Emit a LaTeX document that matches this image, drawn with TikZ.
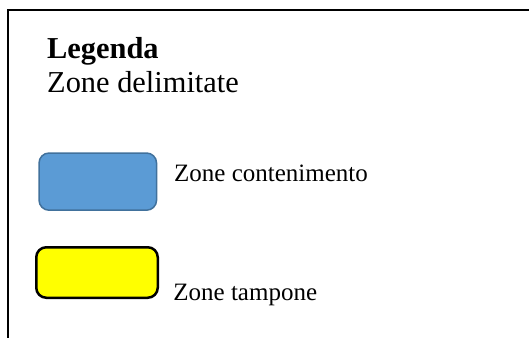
\documentclass[tikz,border=0pt]{standalone}
\usepackage{fontspec}
\setmainfont{Liberation Serif}
\usetikzlibrary{positioning}

\definecolor{boxblue}{HTML}{5B9BD5}
\definecolor{edgeblue}{HTML}{41719C}
\definecolor{boxyellow}{HTML}{FFFF00}

\begin{document}
\begin{tikzpicture}[x=1pt, y=-1pt]
\tikzstyle{zonebox} = [rectangle, draw, rounded corners=10pt, inner sep=0pt]
\tikzstyle{title} = [anchor=base west, inner sep=0pt, font=\fontsize{30.4}{34}\selectfont]
\tikzstyle{label} = [anchor=base west, inner sep=0pt, font=\fontsize{25}{29}\selectfont]

\useasboundingbox (0,0) rectangle (529,338);

% legend frame
\draw [line width=2pt, line join=miter] (529,10) -- (8,10) -- (8,338);

\node [title] (head) at (47,58) {\textbf{Legenda}};
\node [title] (sub) at (47,92.7) {Zone delimitate};

\node [zonebox, fill=boxblue, draw=edgeblue, line width=1.5pt,
       minimum width=117.5pt, minimum height=57.2pt] (cont) at (97.8,181.6) {};
\node [label, right=16.7pt of cont.east, anchor=base west] (contlabel) {Zone contenimento};

\node [zonebox, fill=boxyellow, draw=black, line width=2.5pt,
       minimum width=121.5pt, minimum height=50.5pt] (tamp) at (97,272.5) {};
\node [label, anchor=base west] (tamplabel) at ([xshift=14.2pt, yshift=-1.2pt]tamp.south east) {Zone tampone};
\end{tikzpicture}
\end{document}
